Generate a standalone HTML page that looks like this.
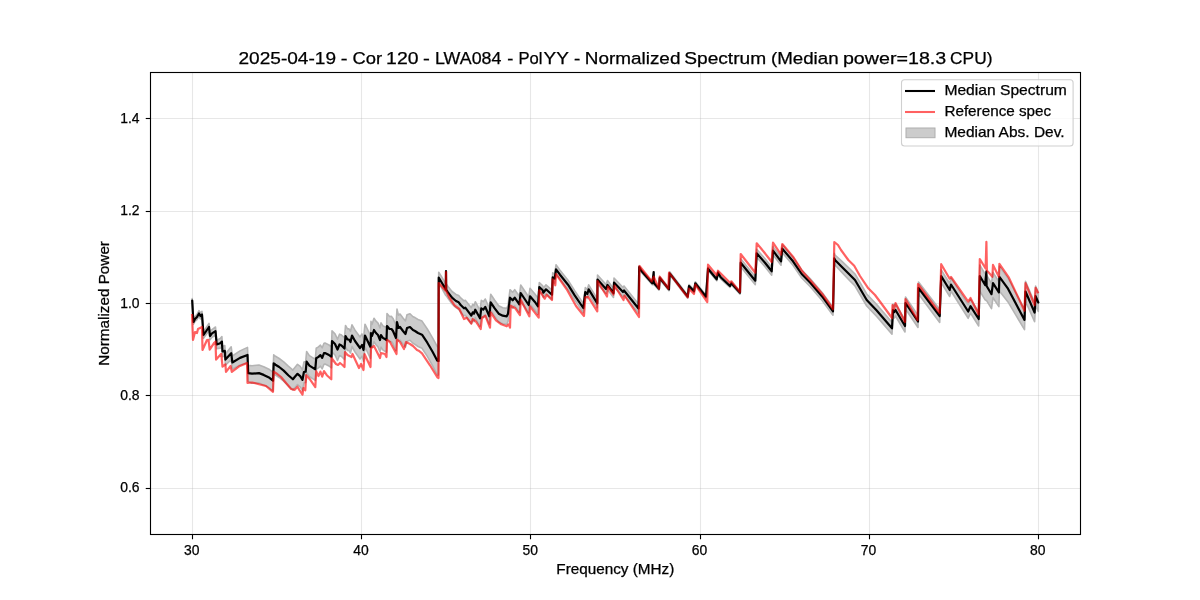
<!DOCTYPE html>
<html><head><meta charset="utf-8">
<style>
html,body{margin:0;padding:0;background:#fff;width:1200px;height:600px;overflow:hidden}
svg{display:block}
text{font-family:"Liberation Sans",sans-serif;fill:#000;stroke:#000;stroke-width:0.25px}
svg{-webkit-font-smoothing:antialiased;will-change:transform}
</style></head><body>
<svg width="1200" height="600" viewBox="0 0 1200 600">
<rect x="0" y="0" width="1200" height="600" fill="#fff"/>
<g font-size="16.67">
<text x="238.47" y="64" textLength="97.52" lengthAdjust="spacingAndGlyphs">2025-04-19</text>
<text x="340.88" y="64" textLength="6.75" lengthAdjust="spacingAndGlyphs">-</text>
<text x="352.40" y="64" textLength="29.62" lengthAdjust="spacingAndGlyphs">Cor</text>
<text x="386.13" y="64" textLength="32.38" lengthAdjust="spacingAndGlyphs">120</text>
<text x="423.13" y="64" textLength="6.83" lengthAdjust="spacingAndGlyphs">-</text>
<text x="434.98" y="64" textLength="66.42" lengthAdjust="spacingAndGlyphs">LWA084</text>
<text x="507.28" y="64" textLength="6.08" lengthAdjust="spacingAndGlyphs">-</text>
<text x="518.40" y="64" textLength="24.04" lengthAdjust="spacingAndGlyphs">Pol</text>
<text x="543.55" y="64" textLength="25.27" lengthAdjust="spacingAndGlyphs">YY</text>
<text x="573.93" y="64" textLength="6.30" lengthAdjust="spacingAndGlyphs">-</text>
<text x="584.84" y="64" textLength="95.56" lengthAdjust="spacingAndGlyphs">Normalized</text>
<text x="684.22" y="64" textLength="81.93" lengthAdjust="spacingAndGlyphs">Spectrum</text>
<text x="770.92" y="64" textLength="67.68" lengthAdjust="spacingAndGlyphs">(Median</text>
<text x="842.92" y="64" textLength="103.33" lengthAdjust="spacingAndGlyphs">power=18.3</text>
<text x="950.09" y="64" textLength="42.36" lengthAdjust="spacingAndGlyphs">CPU)</text>
</g>
<g stroke="#b0b0b0" stroke-opacity="0.3" stroke-width="1.11">
<line x1="192.50" y1="72.6" x2="192.50" y2="534.4"/>
<line x1="361.50" y1="72.6" x2="361.50" y2="534.4"/>
<line x1="530.50" y1="72.6" x2="530.50" y2="534.4"/>
<line x1="700.50" y1="72.6" x2="700.50" y2="534.4"/>
<line x1="869.50" y1="72.6" x2="869.50" y2="534.4"/>
<line x1="1038.50" y1="72.6" x2="1038.50" y2="534.4"/>
<line x1="150.6" y1="488.50" x2="1080.4" y2="488.50"/>
<line x1="150.6" y1="395.50" x2="1080.4" y2="395.50"/>
<line x1="150.6" y1="303.50" x2="1080.4" y2="303.50"/>
<line x1="150.6" y1="211.50" x2="1080.4" y2="211.50"/>
<line x1="150.6" y1="118.50" x2="1080.4" y2="118.50"/>
</g>
<g id="data">
<path d="M192.2,298.5 L193.0,312.9 L193.5,319.8 L195.0,316.6 L197.0,314.4 L199.0,310.6 L200.5,313.0 L202.0,311.4 L203.5,331.8 L209.0,323.4 L210.0,332.3 L212.0,329.6 L215.5,327.0 L216.7,340.2 L220.2,338.5 L221.9,336.6 L222.5,346.4 L224.8,345.5 L225.4,354.1 L231.2,346.8 L232.4,356.0 L240.0,350.9 L247.5,347.4 L248.2,365.4 L252.0,365.7 L259.0,365.0 L263.7,366.7 L269.5,369.5 L273.0,372.3 L273.7,354.9 L275.5,356.3 L279.2,358.5 L283.7,361.9 L288.3,366.2 L292.9,370.1 L294.7,367.7 L297.5,364.3 L300.2,366.4 L302.5,370.0 L303.9,362.1 L305.7,361.6 L306.6,351.5 L309.4,355.6 L313.0,357.9 L315.3,359.3 L316.2,348.3 L318.5,346.9 L320.4,345.1 L322.2,347.8 L324.0,343.2 L325.0,343.0 L329.0,345.0 L331.5,346.9 L332.0,330.9 L335.0,333.8 L337.5,339.2 L339.5,334.2 L341.5,335.1 L344.5,338.0 L345.5,325.5 L347.5,328.9 L349.0,328.9 L350.5,331.3 L352.0,324.8 L355.0,330.2 L360.0,337.0 L362.0,333.9 L363.5,338.8 L365.0,324.2 L369.5,333.5 L370.5,335.5 L371.0,321.4 L372.0,324.4 L374.0,318.3 L376.0,321.2 L378.0,323.1 L380.0,328.0 L381.0,322.9 L383.0,325.9 L385.0,326.8 L386.5,327.7 L387.0,313.6 L389.5,316.5 L391.5,316.4 L393.0,318.4 L396.0,325.2 L397.0,309.1 L398.5,315.1 L400.0,314.0 L403.0,317.9 L405.5,320.9 L407.0,314.8 L410.0,313.7 L413.0,316.7 L415.0,317.6 L418.0,319.5 L422.0,321.1 L427.3,329.0 L432.7,338.2 L437.3,346.7 L438.5,347.0 L438.7,272.2 L442.0,277.4 L445.8,283.9 L446.2,283.9 L448.0,286.4 L452.0,291.5 L456.0,294.4 L458.7,295.4 L460.7,297.9 L464.0,300.9 L465.3,300.2 L471.3,307.7 L472.7,304.3 L474.0,305.7 L475.3,301.7 L480.0,310.3 L481.3,300.3 L483.3,301.7 L485.3,299.0 L489.3,308.3 L490.7,294.3 L494.7,300.3 L498.7,305.7 L502.7,307.7 L506.7,308.3 L508.0,305.7 L510.0,289.7 L512.7,292.3 L514.7,289.7 L519.3,296.3 L520.7,285.0 L524.7,291.0 L528.7,297.0 L530.0,288.3 L534.7,293.7 L538.0,298.3 L539.3,282.5 L542.7,285.8 L543.3,288.2 L546.0,284.8 L552.0,290.2 L552.7,272.8 L554.7,274.2 L556.0,264.8 L560.0,270.2 L568.0,280.2 L574.7,290.8 L583.3,303.5 L585.3,287.5 L587.3,289.5 L588.7,284.8 L597.3,298.8 L597.5,275.0 L606.0,284.5 L607.5,280.5 L613.5,288.5 L614.0,278.0 L623.0,287.5 L624.0,286.0 L638.5,304.0 L639.2,265.5 L641.7,269.8 L652.3,281.8 L653.9,281.5 L659.0,287.2 L659.7,276.5 L669.0,287.8 L669.7,271.8 L687.7,295.2 L689.0,284.5 L694.0,289.8 L695.3,281.8 L706.0,295.2 L708.0,267.2 L716.7,277.8 L718.0,271.2 L720.7,275.8 L730.0,284.5 L731.3,281.8 L740.0,291.2 L740.7,258.7 L755.3,276.7 L756.7,249.3 L765.0,258.7 L771.7,267.3 L773.0,246.7 L781.0,257.3 L782.3,244.7 L793.0,257.3 L801.7,270.0 L810.3,278.7 L822.3,292.7 L833.0,307.3 L834.3,253.3 L835.0,255.0 L841.7,261.2 L850.0,269.0 L855.0,274.0 L866.7,294.0 L876.7,304.5 L892.0,322.3 L893.0,304.0 L894.3,306.0 L895.5,304.0 L905.0,320.0 L905.5,297.0 L918.0,315.5 L918.5,282.0 L939.7,309.6 L941.2,269.8 L949.7,283.5 L951.0,278.0 L968.2,304.7 L970.5,299.3 L978.7,312.0 L979.8,265.0 L985.1,274.1 L986.6,275.1 L991.5,283.4 L993.0,272.4 L998.9,281.7 L999.4,266.1 L1008.0,278.2 L1024.5,309.7 L1025.5,281.3 L1034.6,302.5 L1035.6,286.0 L1038.3,292.5 L1038.3,311.5 L1035.6,305.3 L1034.6,321.8 L1025.5,301.2 L1024.5,329.7 L1008.0,301.9 L999.4,291.0 L998.9,306.6 L993.0,297.7 L991.5,308.7 L986.6,300.7 L985.1,299.8 L979.8,291.0 L978.7,326.0 L970.5,313.1 L968.2,318.3 L951.0,291.0 L949.7,296.5 L941.2,282.6 L939.7,322.4 L918.5,294.0 L918.0,327.5 L905.5,309.0 L905.0,332.0 L895.5,316.0 L894.3,318.0 L893.0,316.0 L892.0,334.3 L876.7,316.5 L866.7,306.0 L855.0,286.0 L850.0,281.0 L841.7,272.2 L835.0,265.0 L834.3,263.3 L833.0,315.3 L822.3,300.7 L810.3,286.7 L801.7,278.0 L793.0,265.3 L782.3,252.7 L781.0,265.3 L773.0,254.7 L771.7,275.3 L765.0,266.7 L756.7,257.3 L755.3,284.7 L740.7,266.7 L740.0,294.2 L731.3,284.8 L730.0,287.5 L720.7,278.8 L718.0,274.2 L716.7,280.8 L708.0,270.2 L706.0,298.2 L695.3,284.8 L694.0,292.8 L689.0,287.5 L687.7,298.2 L669.7,274.8 L669.0,290.8 L659.7,279.5 L659.0,290.2 L653.9,284.5 L652.3,284.8 L641.7,272.8 L639.2,268.5 L638.5,313.0 L624.0,295.0 L623.0,296.5 L614.0,287.0 L613.5,297.5 L607.5,289.5 L606.0,293.5 L597.5,284.0 L597.3,307.8 L588.7,293.8 L587.3,298.5 L585.3,296.5 L583.3,312.5 L574.7,299.8 L568.0,289.2 L560.0,279.2 L556.0,273.8 L554.7,283.2 L552.7,281.8 L552.0,299.2 L546.0,293.8 L543.3,297.2 L542.7,294.8 L539.3,291.5 L538.0,314.3 L534.7,309.7 L530.0,304.3 L528.7,313.0 L524.7,307.0 L520.7,301.0 L519.3,312.3 L514.7,305.7 L512.7,308.3 L510.0,305.7 L508.0,321.7 L506.7,324.3 L502.7,323.7 L498.7,321.7 L494.7,316.3 L490.7,310.3 L489.3,324.3 L485.3,315.0 L483.3,317.7 L481.3,316.3 L480.0,326.3 L475.3,317.7 L474.0,321.7 L472.7,320.3 L471.3,323.7 L465.3,315.2 L464.0,315.7 L460.7,312.1 L458.7,309.2 L456.0,307.6 L452.0,303.9 L448.0,298.2 L446.2,295.5 L445.8,295.5 L442.0,288.6 L438.7,283.2 L438.5,375.0 L437.3,374.7 L432.7,365.8 L427.3,356.4 L422.0,348.3 L418.0,346.5 L415.0,344.4 L413.0,343.3 L410.0,340.3 L407.0,341.2 L405.5,347.1 L403.0,344.1 L400.0,340.0 L398.5,340.9 L397.0,334.9 L396.0,350.8 L393.0,343.6 L391.5,341.6 L389.5,341.5 L387.0,338.4 L386.5,352.3 L385.0,351.2 L383.0,350.1 L381.0,347.1 L380.0,352.0 L378.0,346.9 L376.0,344.8 L374.0,341.7 L372.0,347.6 L371.0,344.6 L370.5,358.5 L369.5,356.5 L365.0,346.8 L363.5,361.2 L362.0,356.1 L360.0,359.0 L355.0,352.0 L352.0,346.5 L350.5,353.0 L349.0,350.5 L347.5,350.5 L345.5,347.0 L344.5,359.5 L341.5,356.5 L339.5,355.5 L337.5,360.5 L335.0,355.0 L332.0,352.0 L331.5,368.0 L329.0,366.0 L325.0,364.0 L324.0,364.2 L322.2,368.8 L320.4,366.1 L318.5,367.9 L316.2,369.3 L315.3,380.3 L313.0,378.9 L309.4,376.5 L306.6,372.4 L305.7,382.5 L303.9,382.8 L302.5,390.6 L300.2,386.9 L297.5,384.5 L294.7,387.7 L292.9,390.0 L288.3,385.8 L283.7,381.2 L279.2,377.5 L275.5,375.1 L273.7,373.6 L273.0,391.0 L269.5,387.9 L263.7,384.9 L259.0,382.9 L252.0,383.3 L248.2,381.4 L247.5,362.8 L240.0,364.9 L232.4,369.0 L231.2,359.6 L225.4,365.1 L224.8,356.3 L222.5,356.6 L221.9,346.6 L220.2,348.1 L216.7,348.8 L215.5,335.2 L212.0,337.2 L210.0,339.7 L209.0,330.6 L203.5,338.2 L202.0,317.6 L200.5,319.0 L199.0,316.4 L197.0,319.6 L195.0,321.4 L193.5,324.2 L193.0,317.1 L192.2,302.5 Z" fill="#cccccc" stroke="#b4b4b4" stroke-width="1.6" stroke-linejoin="round"/>
<path d="M192.2,300.5 L193.0,315.0 L193.5,322.0 L195.0,319.0 L197.0,317.0 L199.0,313.5 L200.5,316.0 L202.0,314.5 L203.5,335.0 L209.0,327.0 L210.0,336.0 L212.0,333.4 L215.5,331.1 L216.7,344.5 L220.2,343.3 L221.9,341.6 L222.5,351.5 L224.8,350.9 L225.4,359.6 L231.2,353.2 L232.4,362.5 L240.0,357.9 L247.5,355.0 L248.2,373.1 L252.0,373.7 L259.0,373.1 L263.7,374.9 L269.5,377.8 L273.0,380.7 L273.7,363.3 L275.5,364.7 L279.2,367.0 L283.7,370.6 L288.3,375.2 L292.9,379.3 L294.7,377.0 L297.5,373.8 L300.2,376.1 L302.5,379.8 L303.9,372.0 L305.7,371.6 L306.6,361.5 L309.4,365.6 L313.0,367.9 L315.3,369.3 L316.2,358.3 L318.5,356.9 L320.4,355.1 L322.2,357.8 L324.0,353.2 L325.0,353.0 L329.0,355.0 L331.5,357.0 L332.0,341.0 L335.0,344.0 L337.5,349.5 L339.5,344.5 L341.5,345.5 L344.5,348.5 L345.5,336.0 L347.5,339.5 L349.0,339.5 L350.5,342.0 L352.0,335.5 L355.0,341.0 L360.0,348.0 L362.0,345.0 L363.5,350.0 L365.0,335.5 L369.5,345.0 L370.5,347.0 L371.0,333.0 L372.0,336.0 L374.0,330.0 L376.0,333.0 L378.0,335.0 L380.0,340.0 L381.0,335.0 L383.0,338.0 L385.0,339.0 L386.5,340.0 L387.0,326.0 L389.5,329.0 L391.5,329.0 L393.0,331.0 L396.0,338.0 L397.0,322.0 L398.5,328.0 L400.0,327.0 L403.0,331.0 L405.5,334.0 L407.0,328.0 L410.0,327.0 L413.0,330.0 L415.0,331.0 L418.0,333.0 L422.0,334.7 L427.3,342.7 L432.7,352.0 L437.3,360.7 L438.5,361.0 L438.7,277.7 L442.0,283.0 L445.8,289.7 L446.0,271.0 L446.2,289.7 L448.0,292.3 L452.0,297.7 L456.0,301.0 L458.7,302.3 L460.7,305.0 L464.0,308.3 L465.3,307.7 L471.3,315.7 L472.7,312.3 L474.0,313.7 L475.3,309.7 L480.0,318.3 L481.3,308.3 L483.3,309.7 L485.3,307.0 L489.3,316.3 L490.7,302.3 L494.7,308.3 L498.7,313.7 L502.7,315.7 L506.7,316.3 L508.0,313.7 L510.0,297.7 L512.7,300.3 L514.7,297.7 L519.3,304.3 L520.7,293.0 L524.7,299.0 L528.7,305.0 L530.0,296.3 L534.7,301.7 L538.0,306.3 L539.3,287.0 L542.7,290.3 L543.3,292.7 L546.0,289.3 L552.0,294.7 L552.7,277.3 L554.7,278.7 L556.0,269.3 L560.0,274.7 L568.0,284.7 L574.7,295.3 L583.3,308.0 L585.3,292.0 L587.3,294.0 L588.7,289.3 L597.3,303.3 L597.5,279.5 L606.0,289.0 L607.5,285.0 L613.5,293.0 L614.0,282.5 L623.0,292.0 L624.0,290.5 L638.5,308.5 L639.2,267.0 L641.7,271.3 L652.3,283.3 L653.7,272.0 L653.9,283.0 L659.0,288.7 L659.7,278.0 L669.0,289.3 L669.7,273.3 L687.7,296.7 L689.0,286.0 L694.0,291.3 L695.3,283.3 L706.0,296.7 L708.0,268.7 L716.7,279.3 L718.0,272.7 L720.7,277.3 L730.0,286.0 L731.3,283.3 L740.0,292.7 L740.7,262.7 L755.3,280.7 L756.7,253.3 L765.0,262.7 L771.7,271.3 L773.0,250.7 L781.0,261.3 L782.3,248.7 L793.0,261.3 L801.7,274.0 L810.3,282.7 L822.3,296.7 L833.0,311.3 L834.3,258.3 L835.0,260.0 L841.7,266.7 L850.0,275.0 L855.0,280.0 L866.7,300.0 L876.7,310.5 L892.0,328.3 L893.0,310.0 L894.3,312.0 L895.5,310.0 L905.0,326.0 L905.5,303.0 L918.0,321.5 L918.5,288.0 L939.7,316.0 L941.2,276.2 L949.7,290.0 L951.0,284.5 L968.2,311.5 L970.5,306.2 L978.7,319.0 L979.8,276.0 L985.1,285.0 L986.4,271.3 L986.6,286.0 L991.5,294.2 L993.0,283.2 L998.9,292.4 L999.4,276.8 L1008.0,288.7 L1024.5,319.9 L1025.5,291.5 L1034.6,312.6 L1035.6,296.1 L1038.3,302.5" fill="none" stroke="#000" stroke-width="2.2" stroke-linejoin="round" stroke-linecap="round"/>
<path d="M192.0,314.0 L193.0,340.0 L195.0,332.0 L197.0,333.0 L198.0,329.0 L202.0,327.0 L202.5,350.0 L207.0,340.0 L208.5,339.8 L209.7,349.7 L214.3,342.7 L215.5,341.6 L216.1,359.6 L221.3,353.8 L222.5,366.6 L225.4,364.3 L226.0,371.9 L230.6,366.0 L231.8,371.9 L238.8,366.6 L247.0,363.1 L247.5,382.9 L252.0,382.5 L259.0,384.2 L266.0,386.0 L273.0,391.8 L273.7,371.6 L276.4,373.4 L281.0,377.0 L285.6,382.5 L291.1,389.0 L294.7,389.9 L297.5,386.7 L299.3,389.9 L302.5,394.5 L303.4,388.0 L305.3,390.3 L306.2,375.2 L310.3,379.8 L315.3,387.1 L316.2,371.1 L318.5,376.1 L320.4,371.6 L322.2,376.6 L324.0,371.1 L326.8,375.2 L331.3,379.3 L331.5,358.0 L336.0,364.0 L338.0,365.0 L340.0,363.0 L342.5,365.0 L344.5,367.0 L345.0,352.0 L347.5,355.0 L351.5,357.0 L352.5,354.0 L359.0,368.0 L361.0,364.0 L363.5,370.0 L364.5,354.0 L370.5,367.0 L371.0,348.0 L374.0,346.0 L380.0,358.0 L381.0,353.0 L385.0,354.0 L386.5,357.0 L387.0,340.0 L390.0,342.0 L396.5,354.0 L397.0,339.5 L400.0,342.0 L404.0,349.0 L406.0,342.0 L410.0,344.0 L413.0,346.0 L417.0,350.0 L418.7,350.7 L422.0,353.3 L430.0,365.3 L437.3,377.3 L438.5,378.0 L438.7,283.0 L445.8,291.0 L446.0,272.0 L446.2,291.0 L449.3,297.7 L454.7,305.7 L459.3,309.0 L464.0,319.0 L466.7,317.7 L471.3,323.7 L472.7,319.0 L476.0,321.7 L480.7,329.0 L482.0,317.7 L485.3,315.7 L490.0,327.7 L490.7,312.3 L496.0,320.3 L501.3,324.3 L506.7,326.3 L508.7,324.3 L510.0,327.7 L510.7,305.7 L515.3,308.3 L520.0,315.0 L520.7,299.7 L529.3,316.3 L530.0,306.3 L538.7,317.7 L539.3,290.3 L544.7,298.7 L546.7,294.7 L552.0,300.0 L552.7,279.3 L555.3,285.3 L556.0,274.0 L566.7,289.3 L576.0,306.0 L584.0,316.0 L585.3,297.3 L588.0,296.7 L597.3,311.3 L597.5,281.0 L607.0,296.5 L608.0,286.5 L613.5,294.5 L614.5,285.5 L623.5,300.0 L624.5,295.5 L639.0,317.0 L639.5,266.0 L651.7,281.3 L653.7,276.7 L659.0,288.7 L659.7,276.7 L668.3,288.7 L669.0,272.7 L687.7,297.3 L689.0,288.7 L694.0,294.0 L695.3,284.7 L707.3,302.0 L708.0,264.7 L716.7,275.3 L718.0,270.7 L730.0,282.7 L731.3,281.3 L740.0,292.0 L740.7,254.0 L755.3,272.7 L756.7,243.3 L765.0,253.3 L771.7,262.0 L773.0,242.7 L781.0,254.7 L782.3,244.0 L793.0,256.7 L802.3,271.3 L809.0,278.7 L822.3,294.0 L833.0,309.0 L834.3,242.0 L838.0,245.0 L841.0,250.0 L848.3,260.0 L854.2,265.8 L860.0,276.0 L868.3,288.3 L875.0,295.0 L881.0,303.0 L892.0,318.0 L892.5,305.0 L894.0,309.0 L895.5,303.0 L905.0,322.0 L905.5,299.0 L917.5,320.0 L918.0,284.0 L939.7,313.0 L941.2,264.2 L949.5,278.5 L951.0,277.0 L968.2,301.7 L970.5,298.0 L978.7,314.5 L979.8,259.0 L985.6,268.5 L986.4,241.9 L986.9,270.4 L992.4,276.8 L993.0,264.9 L998.9,276.8 L999.4,263.9 L1008.9,277.7 L1024.5,310.7 L1025.5,283.2 L1034.6,305.2 L1035.6,287.8 L1038.3,293.3" fill="none" stroke="#ff0000" stroke-opacity="0.62" stroke-width="2.2" stroke-linejoin="round" stroke-linecap="butt"/>
</g>
<rect x="150.5" y="72.5" width="930.00" height="462.00" fill="none" stroke="#000" stroke-width="1.11" stroke-linecap="square"/>
<g stroke="#000" stroke-width="1.11">
<line x1="192.50" y1="534.4" x2="192.50" y2="539.26"/>
<line x1="361.50" y1="534.4" x2="361.50" y2="539.26"/>
<line x1="530.50" y1="534.4" x2="530.50" y2="539.26"/>
<line x1="700.50" y1="534.4" x2="700.50" y2="539.26"/>
<line x1="869.50" y1="534.4" x2="869.50" y2="539.26"/>
<line x1="1038.50" y1="534.4" x2="1038.50" y2="539.26"/>
<line x1="145.74" y1="488.50" x2="150.6" y2="488.50"/>
<line x1="145.74" y1="395.50" x2="150.6" y2="395.50"/>
<line x1="145.74" y1="303.50" x2="150.6" y2="303.50"/>
<line x1="145.74" y1="211.50" x2="150.6" y2="211.50"/>
<line x1="145.74" y1="118.50" x2="150.6" y2="118.50"/>
</g>
<g font-size="13.9" text-anchor="middle">
<text x="191.80" y="555">30</text>
<text x="361.00" y="555">40</text>
<text x="530.20" y="555">50</text>
<text x="699.40" y="555">60</text>
<text x="868.60" y="555">70</text>
<text x="1037.80" y="555">80</text>
</g>
<g font-size="13.9" text-anchor="end">
<text x="139.6" y="492.22">0.6</text>
<text x="139.6" y="399.86">0.8</text>
<text x="139.6" y="307.50">1.0</text>
<text x="139.6" y="215.14">1.2</text>
<text x="139.6" y="122.78">1.4</text>
</g>
<text x="615.3" y="573.7" font-size="13.9" text-anchor="middle" textLength="118" lengthAdjust="spacingAndGlyphs">Frequency (MHz)</text>
<text x="0" y="0" font-size="13.9" text-anchor="middle" textLength="124.7" lengthAdjust="spacingAndGlyphs" transform="translate(109,303.4) rotate(-90)">Normalized Power</text>
<g>
<rect x="901.5" y="79.7" width="171.6" height="66.3" rx="3" fill="#fff" fill-opacity="0.8" stroke="#d0d0d0" stroke-width="1.11"/>
<line x1="905" y1="91" x2="935" y2="91" stroke="#000" stroke-width="2.08"/>
<line x1="905" y1="112" x2="935" y2="112" stroke="#ff0000" stroke-opacity="0.62" stroke-width="2.08"/>
<rect x="906" y="128" width="29" height="9.7" fill="#cccccc" stroke="#aeaeae" stroke-width="1"/>
<g font-size="13.9">
<text x="944.4" y="94.9" textLength="122.5" lengthAdjust="spacingAndGlyphs">Median Spectrum</text>
<text x="944.4" y="115.6" textLength="106.8" lengthAdjust="spacingAndGlyphs">Reference spec</text>
<text x="944.4" y="136.8" textLength="120.2" lengthAdjust="spacingAndGlyphs">Median Abs. Dev.</text>
</g>
</g>
</svg>
</body></html>
